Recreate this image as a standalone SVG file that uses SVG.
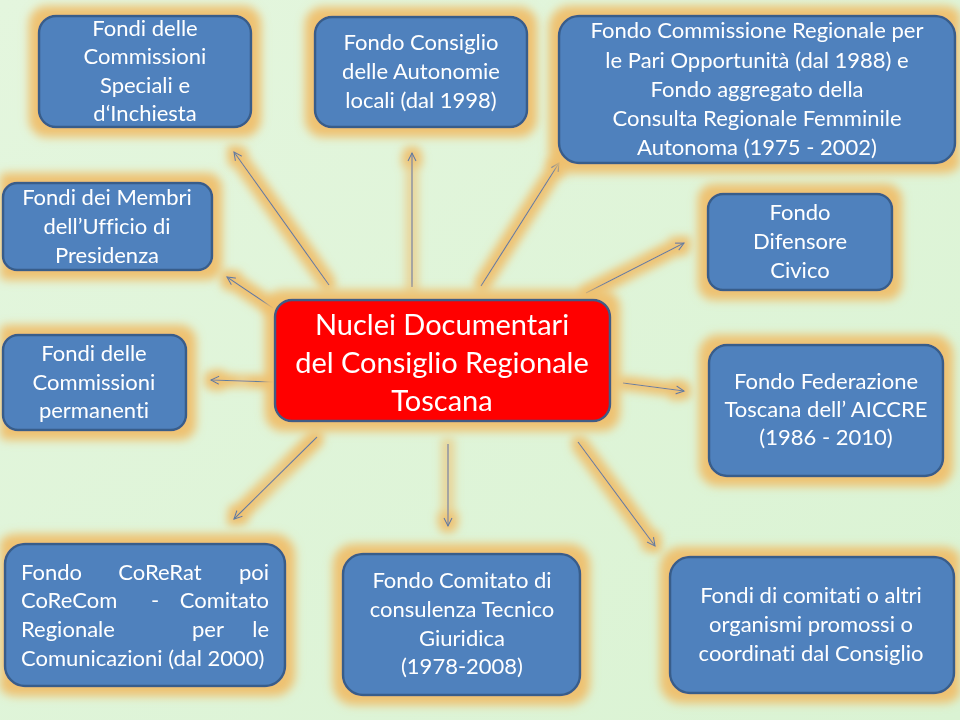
<svg xmlns="http://www.w3.org/2000/svg" width="960" height="720" viewBox="0 0 960 720">
<defs>
<style>
.box{fill:#4f81bd;stroke:#385d8a;stroke-width:2.5}
.center{fill:#ff0000;stroke:#3f5b85;stroke-width:2.5}
text{font-family:Lato,"Open Sans",sans-serif;fill:#ffffff;font-variant-ligatures:none}
.t{font-size:22px;text-anchor:middle}
.tl{font-size:22px}
.tc{font-size:29px;text-anchor:middle}
.c{stroke:#5f7e9e;stroke-width:1.2;fill:none;marker-end:url(#arr)}
</style>
<linearGradient id="bg" x1="0" y1="0" x2="1" y2="1">
<stop offset="0" stop-color="#e4f6de"/>
<stop offset="1" stop-color="#daf3d3"/>
</linearGradient>
<marker id="arr" markerUnits="userSpaceOnUse" markerWidth="12" markerHeight="12" refX="9" refY="5" orient="auto">
<path d="M1,1 L9,5 L1,9" fill="none" stroke="#5f7e9e" stroke-width="1.2"/>
</marker>
<filter id="glow" filterUnits="userSpaceOnUse" x="0" y="0" width="960" height="720">
<feMorphology in="SourceAlpha" operator="dilate" radius="9" result="d"/>
<feGaussianBlur in="d" stdDeviation="5" result="b"/>
<feFlood flood-color="#efbf6c" flood-opacity="0.95"/>
<feComposite in2="b" operator="in" result="g"/>
<feMerge><feMergeNode in="g"/><feMergeNode in="SourceGraphic"/></feMerge>
</filter>
<filter id="glowl" filterUnits="userSpaceOnUse" x="0" y="0" width="960" height="720">
<feMorphology in="SourceAlpha" operator="dilate" radius="6" result="d"/>
<feGaussianBlur in="d" stdDeviation="4" result="b"/>
<feFlood flood-color="#efbf6c" flood-opacity="0.95"/>
<feComposite in2="b" operator="in" result="g"/>
<feMerge><feMergeNode in="g"/><feMergeNode in="SourceGraphic"/></feMerge>
</filter>
</defs>
<rect x="0" y="0" width="960" height="720" fill="url(#bg)"/>

<g id="connectors" filter="url(#glowl)">
<line class="c" x1="329" y1="285" x2="234" y2="152"/>
<line class="c" x1="412" y1="287" x2="412" y2="153"/>
<line class="c" x1="481" y1="286" x2="559" y2="163"/>
<line class="c" x1="273" y1="308" x2="227" y2="277"/>
<line class="c" x1="586" y1="293" x2="684" y2="243"/>
<line class="c" x1="273" y1="382" x2="211" y2="380"/>
<line class="c" x1="623" y1="383" x2="684" y2="391"/>
<line class="c" x1="317" y1="437" x2="234" y2="519"/>
<line class="c" x1="448" y1="444" x2="448" y2="526"/>
<line class="c" x1="578" y1="442" x2="655" y2="546"/>
</g>

<g id="n-speciali" filter="url(#glow)">
<rect class="box" x="39" y="16" width="212" height="111" rx="17"/>
<text class="t" x="145" y="36">Fondi delle</text>
<text class="t" x="145" y="64">Commissioni</text>
<text class="t" x="145" y="93">Speciali e</text>
<text class="t" x="145" y="121">d‘Inchiesta</text>
</g>

<g id="n-autonomie" filter="url(#glow)">
<rect class="box" x="315" y="17" width="212" height="110" rx="17"/>
<text class="t" x="421" y="50">Fondo Consiglio</text>
<text class="t" x="421" y="79">delle Autonomie</text>
<text class="t" x="421" y="108">locali (dal 1998)</text>
</g>

<g id="n-pari" filter="url(#glow)">
<rect class="box" x="559" y="16" width="396" height="147" rx="20"/>
<text class="t" x="757" y="38">Fondo Commissione Regionale per</text>
<text class="t" x="757" y="68">le Pari  Opportunità (dal 1988) e</text>
<text class="t" x="757" y="97">Fondo aggregato della</text>
<text class="t" x="757" y="126">Consulta Regionale Femminile</text>
<text class="t" x="757" y="155">Autonoma (1975 - 2002)</text>
</g>

<g id="n-membri" filter="url(#glow)">
<rect class="box" x="3" y="183" width="209" height="87" rx="14"/>
<text class="t" x="107" y="205">Fondi dei Membri</text>
<text class="t" x="107" y="234">dell’Ufficio di</text>
<text class="t" x="107" y="263">Presidenza</text>
</g>

<g id="n-difensore" filter="url(#glow)">
<rect class="box" x="708" y="194" width="184" height="96" rx="15"/>
<text class="t" x="800" y="220">Fondo</text>
<text class="t" x="800" y="249">Difensore</text>
<text class="t" x="800" y="278">Civico</text>
</g>

<g id="n-center" filter="url(#glow)">
<rect class="center" x="275" y="300" width="335" height="121" rx="17"/>
<text class="tc" x="442" y="335">Nuclei Documentari</text>
<text class="tc" x="442" y="373">del Consiglio Regionale</text>
<text class="tc" x="442" y="411">Toscana</text>
</g>

<g id="n-permanenti" filter="url(#glow)">
<rect class="box" x="3" y="335" width="183" height="95" rx="15"/>
<text class="t" x="94" y="361">Fondi delle</text>
<text class="t" x="94" y="390">Commissioni</text>
<text class="t" x="94" y="418">permanenti</text>
</g>

<g id="n-aiccre" filter="url(#glow)">
<rect class="box" x="709" y="345" width="234" height="131" rx="18"/>
<text class="t" x="826" y="389">Fondo Federazione</text>
<text class="t" x="826" y="417">Toscana dell’ AICCRE</text>
<text class="t" x="826" y="445">(1986 - 2010)</text>
</g>

<g id="n-corerat" filter="url(#glow)">
<rect class="box" x="5" y="544" width="280" height="142" rx="20"/>
<text class="tl" x="21" y="580">Fondo</text>
<text class="t" x="160" y="580">CoReRat</text>
<text class="tl" x="269" y="580" text-anchor="end">poi</text>
<text class="tl" x="21" y="608">CoReCom</text>
<text class="t" x="155" y="608">-</text>
<text class="tl" x="269" y="608" text-anchor="end">Comitato</text>
<text class="tl" x="21" y="637">Regionale</text>
<text class="t" x="208" y="637">per</text>
<text class="tl" x="269" y="637" text-anchor="end">le</text>
<text class="tl" x="21" y="666">Comunicazioni (dal 2000)</text>
</g>

<g id="n-tecnico" filter="url(#glow)">
<rect class="box" x="343" y="554" width="237" height="141" rx="20"/>
<text class="t" x="462" y="588">Fondo Comitato di</text>
<text class="t" x="462" y="617">consulenza Tecnico</text>
<text class="t" x="462" y="646">Giuridica</text>
<text class="t" x="462" y="674">(1978-2008)</text>
</g>

<g id="n-comitati" filter="url(#glow)">
<rect class="box" x="670" y="557" width="284" height="136" rx="20"/>
<text class="t" x="811" y="603">Fondi di comitati o altri</text>
<text class="t" x="811" y="632">organismi promossi o</text>
<text class="t" x="811" y="661">coordinati dal Consiglio</text>
</g>
</svg>
